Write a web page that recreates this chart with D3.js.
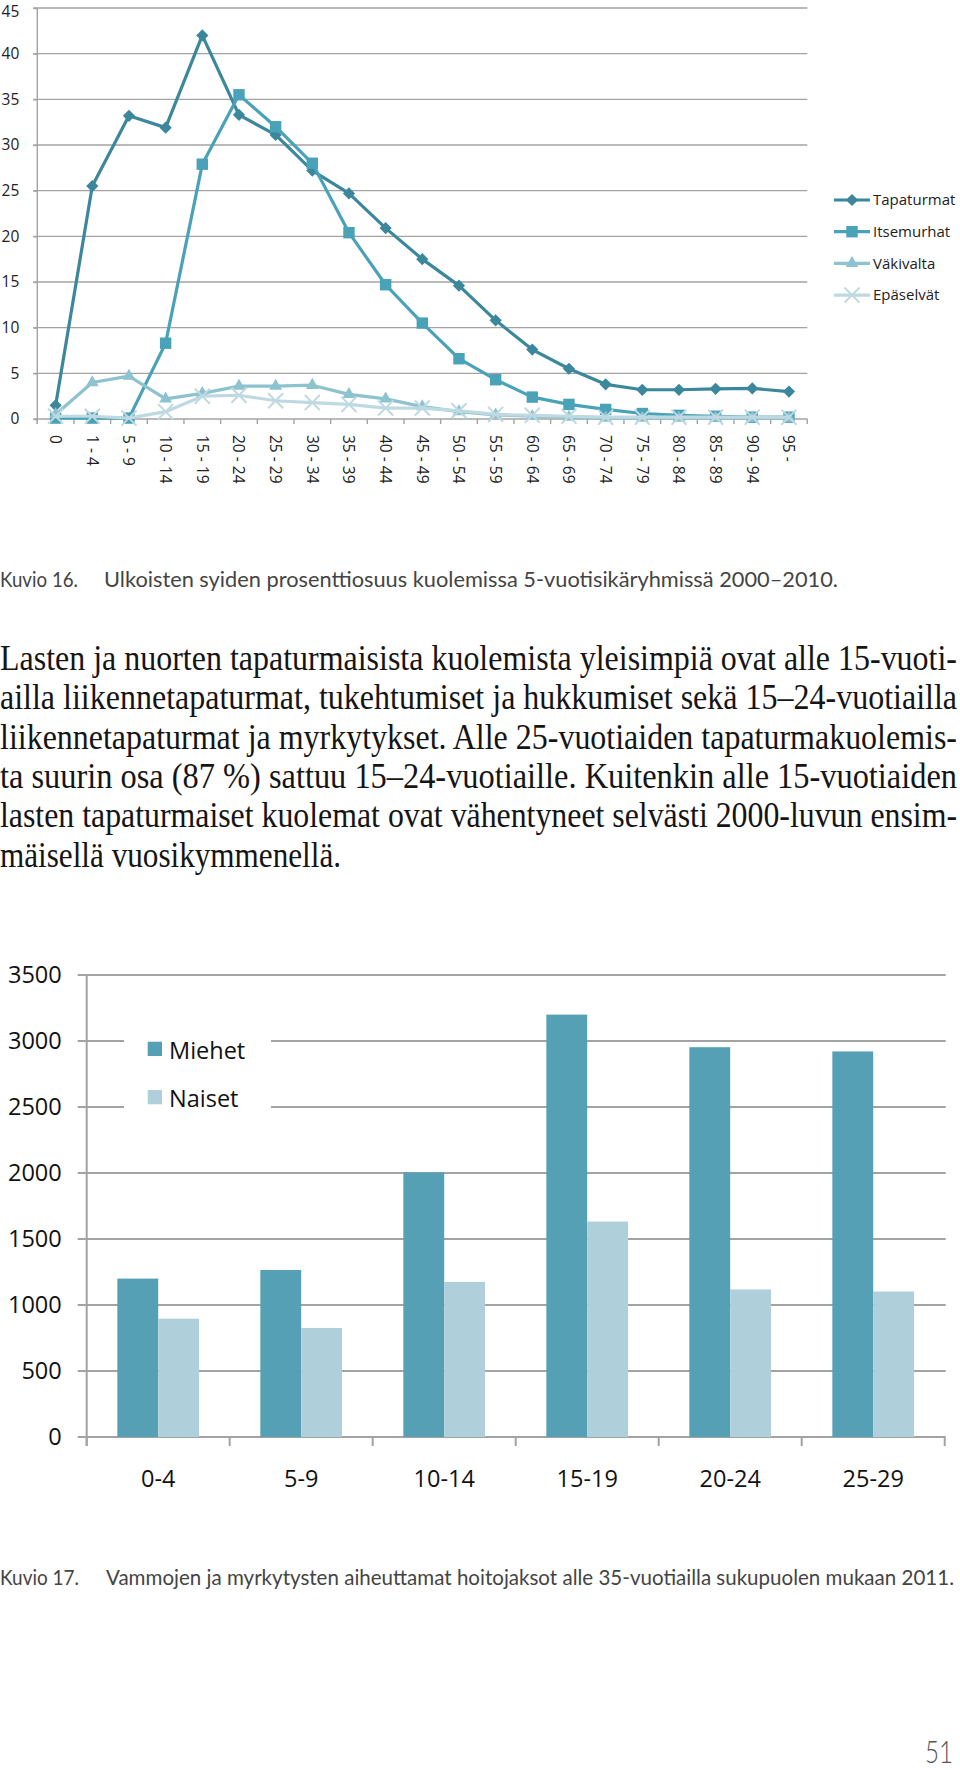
<!DOCTYPE html>
<html><head><meta charset="utf-8">
<script src="https://cdn.jsdelivr.net/npm/d3@7"></script>
<style>body{margin:0;background:#fff} svg{display:block}</style>
</head><body>
<svg id="c" width="960" height="1770"></svg>
<script>
// ---- Chart 1 data (Kuvio 16) ----
const ageGroups = ["0","1 - 4","5 - 9","10 - 14","15 - 19","20 - 24","25 - 29","30 - 34","35 - 39","40 - 44","45 - 49","50 - 54","55 - 59","60 - 64","65 - 69","70 - 74","75 - 79","80 - 84","85 - 89","90 - 94","95 -"];
const tapaturmat = [1.5,25.5,33.2,31.9,42.0,33.3,31.1,27.2,24.7,20.9,17.5,14.6,10.8,7.6,5.5,3.8,3.2,3.2,3.3,3.35,3.0];
const itsemurhat = [0.1,0.1,0.1,8.3,27.9,35.5,32.0,28.0,20.4,14.7,10.5,6.6,4.3,2.4,1.6,1.05,0.6,0.4,0.3,0.2,0.2];
const vakivalta = [0.5,4.0,4.7,2.2,2.8,3.6,3.6,3.7,2.7,2.2,1.35,0.8,0.45,0.3,0.2,0.1,0.1,0.1,0.1,0.1,0.1];
const epaselvat = [0.3,0.3,0.1,0.8,2.5,2.6,2.0,1.8,1.6,1.2,1.2,0.9,0.5,0.4,0.3,0.2,0.2,0.2,0.2,0.2,0.2];
const seriesNames = ["Tapaturmat","Itsemurhat","Väkivalta","Epäselvät"];
const lineTicks = [0,5,10,15,20,25,30,35,40,45];

// ---- Chart 2 data (Kuvio 17) ----
const barCategories = ["0-4","5-9","10-14","15-19","20-24","25-29"];
const miehet = [1200,1265,2005,3200,2953,2921];
const naiset = [896,826,1175,1632,1118,1102];
const barSeriesNames = ["Miehet","Naiset"];
const barTicks = [0,500,1000,1500,2000,2500,3000,3500];

// ---- Texts ----
const caption16a = "Kuvio 16.";
const caption16b = "Ulkoisten syiden prosenttiosuus kuolemissa 5-vuotisikäryhmissä 2000–2010.";
const paragraph = [
  "Lasten ja nuorten tapaturmaisista kuolemista yleisimpiä ovat alle 15-vuoti-",
  "ailla liikennetapaturmat, tukehtumiset ja hukkumiset sekä 15–24-vuotiailla",
  "liikennetapaturmat ja myrkytykset. Alle 25-vuotiaiden tapaturmakuolemis-",
  "ta suurin osa (87 %) sattuu 15–24-vuotiaille. Kuitenkin alle 15-vuotiaiden",
  "lasten tapaturmaiset kuolemat ovat vähentyneet selvästi 2000-luvun ensim-",
  "mäisellä vuosikymmenellä."
];
const caption17a = "Kuvio 17.";
const caption17b = "Vammojen ja myrkytysten aiheuttamat hoitojaksot alle 35-vuotiailla sukupuolen mukaan 2011.";
const pageNumber = "51";

const svg = d3.select("#c");
const sans = "'Open Sans', sans-serif";
const gridCol = "#a3a3a3";

// ================= LINE CHART =================
const L = {left: 37.3, right: 807.3, top: 8, bottom: 419};
const x = d3.scaleBand().domain(ageGroups).range([L.left, L.right]);
const y = d3.scaleLinear().domain([0, 45]).range([L.bottom, L.top]);
const g1 = svg.append("g");

g1.append("g").selectAll("line").data(lineTicks.filter(t => t > 0)).join("line")
  .attr("x1", L.left - 4).attr("x2", L.right)
  .attr("y1", d => y(d)).attr("y2", d => y(d))
  .attr("stroke", gridCol).attr("stroke-width", 1.4);

const yAx = g1.append("g").attr("transform", `translate(${L.left},0)`)
  .call(d3.axisLeft(y).tickValues(lineTicks).tickSize(4).tickPadding(14));
yAx.select(".domain").attr("stroke", gridCol).attr("stroke-width", 1.4)
  .attr("d", `M0,${L.top}V${L.bottom + 5}`);
yAx.selectAll(".tick line").attr("stroke", gridCol).attr("stroke-width", 1.4);
yAx.selectAll(".tick text").attr("font-family", sans).attr("font-size", 15.5).attr("fill", "#222")
  .attr("y", d => d === 45 ? 3.8 : 0);

const xAx = g1.append("g").attr("transform", `translate(0,${L.bottom})`)
  .call(d3.axisBottom(x).tickSize(0));
xAx.select(".domain").attr("stroke", gridCol).attr("stroke-width", 1.4)
  .attr("d", `M${L.left - 4},0H${L.right}`);
xAx.selectAll(".tick text")
  .attr("font-family", sans).attr("font-size", 15.5).attr("fill", "#222")
  .attr("transform", "rotate(90)").attr("x", 16).attr("y", 0).attr("dy", "0.36em")
  .style("text-anchor", "start");
g1.append("g").selectAll("line").data(ageGroups.concat(["__end"])).join("line")
  .attr("x1", (d, i) => L.left + i * x.bandwidth())
  .attr("x2", (d, i) => L.left + i * x.bandwidth())
  .attr("y1", L.bottom).attr("y2", L.bottom + 5)
  .attr("stroke", gridCol).attr("stroke-width", 1.4);

const lineColors = ["#3b879b", "#4aa2b8", "#8dc2cf", "#bfd9e2"];
const seriesData = [tapaturmat, itsemurhat, vakivalta, epaselvat];
const symbols = [
  d3.symbol().type(d3.symbolDiamond2).size(95),
  d3.symbol().type(d3.symbolSquare).size(130),
  d3.symbol().type(d3.symbolTriangle).size(70),
  d3.symbol().type(d3.symbolX).size(150)
];
const line = d3.line().x((d, i) => x(ageGroups[i]) + x.bandwidth() / 2).y(d => y(d));

seriesData.forEach((vals, si) => {
  const gs = g1.append("g");
  gs.append("path").datum(vals).attr("d", line)
    .attr("fill", "none").attr("stroke", lineColors[si]).attr("stroke-width", 3.2)
    .attr("stroke-linejoin", "round");
  gs.selectAll("path.m").data(vals).join("path").attr("class", "m")
    .attr("transform", (d, i) => `translate(${x(ageGroups[i]) + x.bandwidth() / 2},${y(d)})`)
    .attr("d", symbols[si]())
    .attr("fill", si === 3 ? "none" : lineColors[si])
    .attr("stroke", si === 3 ? lineColors[si] : "none")
    .attr("stroke-width", 2);
});

const lg = g1.append("g");
seriesNames.forEach((name, si) => {
  const ly = 200 + si * 31.7;
  lg.append("line").attr("x1", 834).attr("x2", 870).attr("y1", ly).attr("y2", ly)
    .attr("stroke", lineColors[si]).attr("stroke-width", 3.2);
  lg.append("path").attr("transform", `translate(852,${ly})`).attr("d", symbols[si]())
    .attr("fill", si === 3 ? "none" : lineColors[si])
    .attr("stroke", si === 3 ? lineColors[si] : "none").attr("stroke-width", 2);
  lg.append("text").attr("x", 873).attr("y", ly).attr("dy", "0.35em")
    .attr("font-family", sans).attr("font-size", 15).attr("fill", "#222").text(name);
});

// ================= CAPTIONS & PARAGRAPH =================
const capFont = "Lato, 'Noto Sans', sans-serif";
const capSize = 19;
function capText(str, x0, y0, len) {
  svg.append("text").attr("transform", `translate(${x0},${y0}) scale(1,1.1)`)
    .attr("font-family", capFont).attr("font-size", capSize).attr("fill", "#444")
    .attr("textLength", len).attr("lengthAdjust", "spacingAndGlyphs").text(str);
}
capText(caption16a, 0, 587, 78);
capText(caption16b, 104, 587, 734);

paragraph.forEach((t, i) => {
  svg.append("text").attr("transform", `translate(0,${670 + i * 39.3}) scale(1,1.2)`)
    .attr("font-family", "'Liberation Serif', 'DejaVu Serif', serif").attr("font-size", 29)
    .attr("fill", "#151515")
    .attr("textLength", i < 5 ? 957 : 341).attr("lengthAdjust", "spacingAndGlyphs").text(t);
});

capText(caption17a, 0, 1585, 79);
capText(caption17b, 106, 1585, 848);

svg.append("text").attr("transform", "translate(925,1763) scale(1,1.15)")
  .attr("font-family", capFont).attr("font-weight", 300)
  .attr("font-size", 27).attr("fill", "#555").attr("textLength", 28).attr("lengthAdjust", "spacingAndGlyphs")
  .text(pageNumber);

// ================= BAR CHART =================
const B = {left: 86.7, right: 944.7, top: 975, bottom: 1437};
const xb = d3.scaleBand().domain(barCategories).range([B.left, B.right]);
const yb = d3.scaleLinear().domain([0, 3500]).range([B.bottom, B.top]);
const bw = xb.bandwidth() / 3.5;
const g2 = svg.append("g");
const barFont = 23.5;

g2.append("g").selectAll("line").data(barTicks).join("line")
  .attr("x1", B.left - 9).attr("x2", B.right + 1)
  .attr("y1", d => yb(d)).attr("y2", d => yb(d))
  .attr("stroke", gridCol).attr("stroke-width", 2);

const ybAx = g2.append("g").attr("transform", `translate(${B.left},0)`)
  .call(d3.axisLeft(yb).tickValues(barTicks).tickFormat(d3.format("d")).tickSize(0).tickPadding(25));
ybAx.select(".domain").attr("stroke", gridCol).attr("stroke-width", 2)
  .attr("d", `M0,${B.top}V${B.bottom + 9}`);
ybAx.selectAll(".tick text").attr("font-family", sans).attr("font-size", barFont).attr("fill", "#111");

const xbAx = g2.append("g").attr("transform", `translate(0,${B.bottom})`)
  .call(d3.axisBottom(xb).tickSize(0).tickPadding(33));
xbAx.select(".domain").remove();
xbAx.selectAll(".tick text").attr("font-family", sans).attr("font-size", barFont).attr("fill", "#111");
g2.append("g").selectAll("line").data(barCategories.concat(["__end"])).join("line")
  .attr("x1", (d, i) => B.left + i * xb.bandwidth()).attr("x2", (d, i) => B.left + i * xb.bandwidth())
  .attr("y1", B.bottom).attr("y2", B.bottom + 9)
  .attr("stroke", gridCol).attr("stroke-width", 2);

const barColors = ["#56a0b5", "#afd0db"];
[miehet, naiset].forEach((vals, si) => {
  g2.append("g").selectAll("rect").data(vals).join("rect")
    .attr("x", (d, i) => xb(barCategories[i]) + 0.75 * bw + si * bw)
    .attr("width", bw)
    .attr("y", d => yb(d)).attr("height", d => B.bottom - yb(d))
    .attr("fill", barColors[si]);
});

const lg2 = g2.append("g");
lg2.append("rect").attr("x", 124).attr("y", 1022).attr("width", 147).attr("height", 100).attr("fill", "#fff");
barSeriesNames.forEach((name, si) => {
  const top = 1041.7 + si * 48.3;
  lg2.append("rect").attr("x", 147.7).attr("y", top).attr("width", 14.3).attr("height", 14.3).attr("fill", barColors[si]);
  lg2.append("text").attr("x", 169).attr("y", top + 17.3)
    .attr("font-family", sans).attr("font-size", barFont).attr("fill", "#111").text(name);
});
</script>
</body></html>
